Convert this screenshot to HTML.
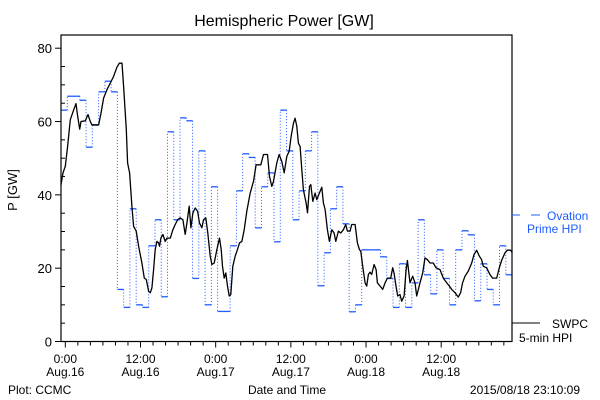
<!DOCTYPE html>
<html><head><meta charset="utf-8"><style>
html,body{margin:0;padding:0;background:#fff;}
svg{display:block;font-family:"Liberation Sans",sans-serif;}
</style></head><body>
<svg id="chart" width="600" height="400" viewBox="0 0 600 400">
<rect x="0" y="0" width="600" height="400" fill="#fff"/>
<text x="284" y="26" font-size="16" text-anchor="middle">Hemispheric Power [GW]</text>
<text transform="translate(17,190) rotate(-90)" font-size="13" text-anchor="middle">P [GW]</text>
<text x="287" y="394" font-size="12" text-anchor="middle">Date and Time</text>
<text x="8" y="394" font-size="12">Plot: CCMC</text>
<text x="580" y="394" font-size="12" text-anchor="end">2015/08/18 23:10:09</text>
<g id="series"></g>
<g id="axes"></g>
<g>
<line x1="512" y1="215" x2="520" y2="215" stroke="#1f5cff" stroke-width="1"/>
<line x1="531" y1="215" x2="540" y2="215" stroke="#1f5cff" stroke-width="1"/>
<text x="547" y="220" font-size="12" fill="#1f5cff">Ovation</text>
<text x="527" y="233" font-size="12" fill="#1f5cff">Prime HPI</text>
<line x1="512" y1="323" x2="540" y2="323" stroke="#000" stroke-width="1"/>
<text x="552" y="328" font-size="12">SWPC</text>
<text x="519" y="342" font-size="12">5-min HPI</text>
</g>
</svg>
<script>
const yTicks=[0,20,40,60,80];
const xTickHours=[0,12,24,36,48,60];
const xTickTimes=["0:00","12:00","0:00","12:00","0:00","12:00"];
const xTickDates=["Aug.16","Aug.16","Aug.17","Aug.17","Aug.18","Aug.18"];
const ovationStartHour=-0.69;
const ovationStepHours=1;
const ovationValues=[63.1,66.9,66.9,65.8,53.0,59.0,68.1,71.0,68.1,14.2,9.3,36.2,10.0,9.3,26.1,33.2,12.2,57.2,33.2,61.0,60.2,17.2,52.0,10.0,42.2,8.2,8.2,26.1,41.1,51.2,50.2,31.0,42.2,46.0,27.2,63.1,52.0,33.2,41.1,52.0,57.2,15.2,24.2,36.2,42.2,32.1,8.1,10.0,25.0,25.0,25.0,23.1,17.2,9.3,21.2,9.3,16.0,33.2,18.2,13.0,25.0,17.2,10.0,25.0,30.2,29.1,11.1,21.2,14.2,10.0,26.1,18.2];
const swpcHours=[-0.69,-0.37,0,0.37,0.80,1.33,1.70,1.97,2.29,2.50,3.19,3.62,3.99,4.25,5.32,5.69,6.11,6.65,7.18,7.71,8.24,8.61,9.04,9.30,9.73,9.94,10.26,10.63,10.90,11.32,11.70,12.23,12.60,12.92,13.29,13.56,13.82,14.09,14.35,14.62,14.89,15.04,15.26,15.58,15.95,16.21,16.75,17.17,17.54,17.92,18.34,18.77,19.14,19.40,19.78,20.04,20.36,20.73,21.11,21.42,21.80,22.06,22.43,22.75,23.13,23.39,23.76,24.19,24.61,24.88,25.09,25.36,25.62,25.89,26.16,26.42,26.74,27.11,27.38,27.80,28.18,28.55,28.97,29.51,30.04,30.46,30.83,31.21,31.63,32.27,32.59,32.96,33.23,33.76,34.13,34.56,34.93,35.35,35.73,36.04,36.42,36.68,36.95,37.21,37.48,37.75,38.01,38.44,38.65,38.97,39.18,39.50,39.87,40.14,40.56,40.94,41.20,41.47,41.84,42.16,42.53,42.90,43.17,43.59,43.97,44.39,44.76,45.03,45.45,45.72,46.25,46.62,46.94,47.16,47.47,47.85,48.11,48.38,48.64,48.91,49.28,49.60,49.81,50.24,50.66,51.04,51.41,51.94,52.26,52.47,52.79,53.06,53.43,53.69,54.07,54.39,54.60,55.02,55.45,55.82,56.09,56.62,57.04,57.42,57.79,58.21,58.74,59.17,59.81,60.34,60.87,61.30,61.67,62.20,62.73,63.10,63.42,63.80,64.33,64.86,65.23,65.66,66.08,66.45,66.72,67.25,67.78,68.21,68.85,69.27,69.64,70.18,70.55,71.08,71.35];
const swpcValues=[42.8,46.0,47.8,53.2,60.5,63.2,64.9,61.4,57.9,60.0,60.2,61.9,60.0,59.1,59.1,62.3,66.4,68.7,70.5,72.3,74.8,75.9,75.9,69.6,57.8,48.7,46.0,36.9,31.4,30.1,26.0,21.4,17.3,16.9,13.7,13.3,14.6,19.6,25.1,27.3,26.9,26.0,28.2,29.2,27.3,28.2,28.2,30.5,31.9,33.2,33.7,33.2,29.2,32.3,36.9,31.0,35.1,36.4,35.5,32.3,31.0,33.2,33.7,29.6,23.3,21.0,21.4,25.1,28.2,25.1,20.5,17.3,18.7,15.1,12.4,12.8,20.5,23.3,24.6,26.9,27.3,30.5,35.5,40.5,43.7,48.2,48.2,48.2,51.0,51.0,45.0,42.3,43.7,48.7,51.0,49.1,46.0,50.5,51.9,55.9,59.6,60.9,58.7,54.1,53.2,46.9,41.4,37.8,35.1,42.3,42.8,38.2,40.5,38.7,40.5,42.1,37.8,36.0,30.5,27.3,30.5,29.6,27.3,30.1,29.6,30.5,31.9,30.1,30.1,31.9,31.9,26.9,25.1,24.6,20.5,16.0,15.1,18.3,18.9,18.3,21.0,19.6,16.0,15.1,14.2,16.0,17.3,17.3,20.1,18.7,15.1,12.4,12.8,11.0,12.4,19.6,22.1,16.0,17.8,16.0,12.4,16.0,18.7,22.8,22.3,21.4,21.4,20.1,19.6,17.3,16.0,15.1,14.2,13.3,12.1,13.3,16.0,17.8,19.2,21.4,23.7,24.9,23.3,22.3,20.5,20.1,18.3,17.3,17.3,20.1,22.1,24.2,24.9,24.9,24.2];

const NS='http://www.w3.org/2000/svg';
const L=61,R=512,T=35,B=341.5;
const tMin=-0.69,tMax=71.3,vMin=0,vMax=83.6;
function xs(t){return L+(t-tMin)/(tMax-tMin)*(R-L);}
function ys(v){return B-(v-vMin)/(vMax-vMin)*(B-T);}
function mk(tag,attrs,parent){const e=document.createElementNS(NS,tag);for(const k in attrs)e.setAttribute(k,attrs[k]);parent.appendChild(e);return e;}
const series=document.getElementById('series');
const axes=document.getElementById('axes');
const blue='#1f5cff';
// ovation steps
let prevY=null;
ovationValues.forEach((v,i)=>{
  const x0=xs(ovationStartHour+i*ovationStepHours),x1=xs(ovationStartHour+(i+1)*ovationStepHours),y=ys(v);
  if(prevY!==null){
    const c=mk('line',{x1:x0,y1:prevY,x2:x0,y2:y,stroke:blue,'stroke-width':1,'stroke-dasharray':'1 2'},series);
    
    
  }
  const s=mk('line',{x1:x0,y1:y,x2:Math.min(x1,R),y2:y,stroke:blue,'stroke-width':1.3},series);
  
  
  prevY=y;
});
// swpc line
const pts=swpcHours.map((t,i)=>xs(t).toFixed(1)+','+ys(swpcValues[i]).toFixed(1)).join(' ');
const pl=mk('polyline',{points:pts,fill:'none',stroke:'#000','stroke-width':1.3,'stroke-linejoin':'round'},series);


// frame
const fr=mk('rect',{x:L,y:T,width:R-L,height:B-T,fill:'none',stroke:'#000','stroke-width':1.2},axes);


// y ticks
for(let v=0;v<=80;v+=5){
  const major=v%20===0;
  const t=mk('line',{x1:L-(major?6:0),y1:ys(v),x2:L+(major?0:4),y2:ys(v),stroke:'#000','stroke-width':1},axes);
  
  
}
yTicks.forEach(v=>{
  const tx=mk('text',{x:L-9,y:ys(v)+5,'font-size':13,'text-anchor':'end'},axes);
  tx.textContent=v;
  
  
});
// x ticks
for(let h=0;h<=70;h+=2){
  const major=h%12===0;
  const t=mk('line',{x1:xs(h),y1:B,x2:xs(h),y2:B+(major?6:4),stroke:'#000','stroke-width':1},axes);
  
  
}
xTickHours.forEach((h,i)=>{
  const a=mk('text',{x:xs(h),y:363,'font-size':12,'text-anchor':'middle'},axes);
  a.textContent=xTickTimes[i];
  
  
  const b=mk('text',{x:xs(h),y:376,'font-size':12,'text-anchor':'middle'},axes);
  b.textContent=xTickDates[i];
  
  
});
</script>
</body></html>
